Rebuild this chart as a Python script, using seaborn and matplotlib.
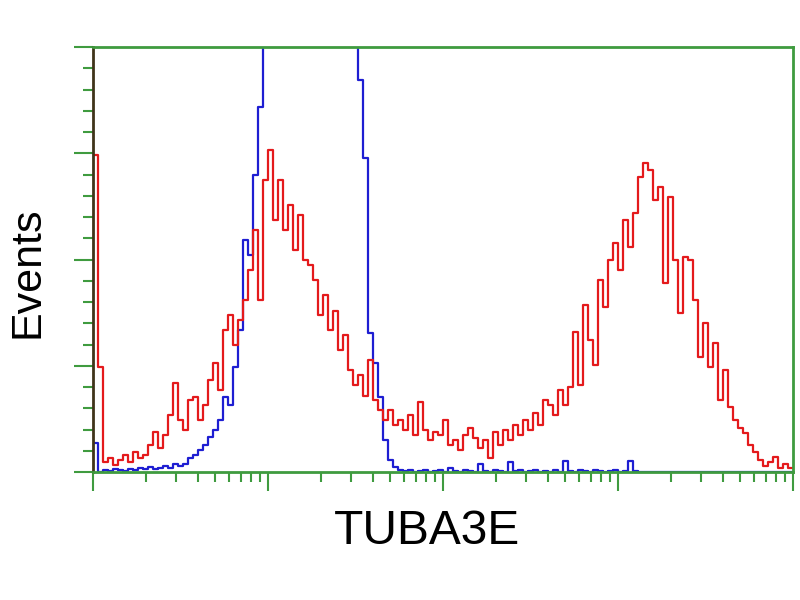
import numpy as np
import pandas as pd
import matplotlib
matplotlib.use("Agg")
import matplotlib.pyplot as plt
import seaborn as sns
from matplotlib.ticker import MultipleLocator, LogLocator, NullFormatter

# flow cytometry histogram, 140 log channels over 4 decades
n_channels = 140
decades = 4

# sample (red) counts per channel
sample_counts = [
    298, 99, 9, 13, 7, 11, 16, 9, 19, 13,
    16, 25, 38, 23, 35, 54, 84, 49, 40, 68,
    71, 49, 63, 87, 103, 77, 134, 148, 120, 143,
    162, 190, 228, 162, 275, 303, 237, 275, 228, 251,
    209, 242, 200, 195, 181, 148, 167, 134, 152, 115,
    129, 96, 82, 91, 72, 105, 68, 58, 49, 58,
    44, 49, 40, 54, 35, 66, 40, 30, 38, 35,
    49, 25, 30, 21, 35, 41, 32, 23, 30, 13,
    38, 25, 40, 30, 44, 35, 49, 40, 56, 44,
    68, 63, 54, 77, 63, 80, 132, 82, 157, 124,
    101, 181, 155, 200, 216, 190, 237, 212, 244, 278,
    291, 284, 256, 268, 178, 259, 200, 150, 202, 200,
    162, 108, 140, 99, 121, 68, 96, 61, 49, 41,
    37, 25, 19, 11, 6, 9, 14, 4, 8, 4,
]

# isotype control (blue) counts per channel
control_counts = [
    27, 0, 2, 1, 3, 2, 1, 3, 2, 4,
    3, 5, 3, 4, 6, 4, 8, 6, 8, 13,
    16, 21, 25, 33, 40, 49, 71, 63, 99, 134,
    218, 204, 280, 344, 520, 700, 850, 950, 1000, 1050,
    1080, 1100, 1090, 1060, 1020, 980, 930, 880, 820, 760,
    690, 620, 520, 369, 296, 131, 103, 71, 30, 11,
    5, 2, 1, 2, 0, 1, 2, 0, 1, 2,
    0, 4, 1, 0, 2, 1, 0, 8, 1, 0,
    2, 1, 0, 9, 1, 2, 0, 1, 2, 0,
    1, 0, 2, 0, 10, 1, 0, 2, 1, 0,
    2, 1, 0, 1, 2, 0, 1, 10, 1, 0,
    0, 0, 0, 0, 0, 0, 0, 0, 0, 0,
    0, 0, 0, 0, 0, 0, 0, 0, 0, 0,
    0, 0, 0, 0, 0, 0, 0, 0, 0, 0,
]

x_label = "TUBA3E"
y_label = "Events"

frame_green = "#3f9b3f"
red = "#e41a1c"
blue = "#1e1ed2"

# channel centres on the log axis
log_centres = (np.arange(n_channels) + 0.5) * decades / n_channels
df = pd.DataFrame({
    "intensity": np.concatenate([10 ** log_centres, 10 ** log_centres]),
    "count": sample_counts + control_counts,
    "group": ["sample"] * n_channels + ["control"] * n_channels,
})

sns.set_style("white")
plt.rcParams["font.family"] = ["Liberation Sans", "DejaVu Sans"]

fig = plt.figure(figsize=(8, 6), dpi=100)
ax = fig.add_axes([93 / 800, 1 - 472 / 600, 700 / 800, 425 / 600])

for grp, col in [("control", blue), ("sample", red)]:
    sub = df[df["group"] == grp]
    sns.histplot(data=sub, x="intensity", weights="count", bins=n_channels,
                 binrange=(0, decades), log_scale=True, element="step",
                 fill=False, color=col, linewidth=1.6, ax=ax)

ax.set_xlim(1, 10 ** decades)
ax.set_ylim(0, 400)
ax.set_xlabel("")
ax.set_ylabel("")

ax.xaxis.set_major_locator(LogLocator(base=10, numticks=10))
ax.xaxis.set_minor_locator(LogLocator(base=10, subs=np.arange(2, 10), numticks=20))
ax.xaxis.set_major_formatter(NullFormatter())
ax.xaxis.set_minor_formatter(NullFormatter())
ax.yaxis.set_major_locator(MultipleLocator(100))
ax.yaxis.set_minor_locator(MultipleLocator(20))
ax.yaxis.set_major_formatter(NullFormatter())

ax.tick_params(which="major", direction="out", length=14, width=1.5,
               color=frame_green, bottom=True, left=True, top=False, right=False)
ax.tick_params(which="minor", direction="out", length=7, width=1.5,
               color=frame_green, bottom=True, left=True, top=False, right=False)

for side, spine in ax.spines.items():
    spine.set_visible(True)
    spine.set_color(frame_green)
    spine.set_linewidth(2)
ax.spines["left"].set_color("#40341a")

fig.text(427 / 800, 1 - 532 / 600, x_label, fontsize=34.5, color="black",
         ha="center", va="center")
fig.text(27 / 800, 1 - 272 / 600, y_label, fontsize=31, rotation=90,
         color="black", ha="center", va="center")

fig.savefig("out.png", dpi=100)
